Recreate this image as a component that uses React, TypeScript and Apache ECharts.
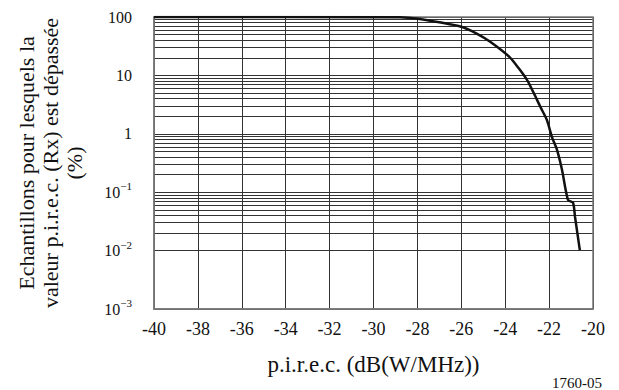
import React, { useEffect, useRef } from "react";
import * as echarts from "echarts";

const xValues = [-40, -28.8, -27.9, -27.0, -26.0, -25.3, -24.7, -23.8, -23.4, -23.0, -22.7, -22.4, -22.1, -21.87, -21.64, -21.41, -21.14, -20.91, -20.82, -20.6];
const yValues = [100, 99, 92.5, 81, 68, 52, 38, 20.6, 13.5, 8.3, 5, 2.9, 1.72, 0.88, 0.53, 0.24, 0.074, 0.066, 0.038, 0.0102];
const decades = [0.001, 0.01, 0.1, 1, 10];
const minorSteps = [2, 3, 4, 5, 6, 7, 8, 9];
const yTickLabels: Record<string, string> = {
  "100": "100",
  "10": "10",
  "1": "1",
  "0.1": "10{sup|\u22121}",
  "0.01": "10{sup|\u22122}",
  "0.001": "10{sup|\u22123}",
};

const FONT = "Liberation Serif";

export default function App() {
  const ref = useRef<HTMLDivElement>(null);
  useEffect(() => {
    if (!ref.current) return;
    const chart = echarts.init(ref.current, undefined, { renderer: "svg" });
    const minorLines: any[] = [];
    decades.forEach((d) => minorSteps.forEach((m) => minorLines.push({ yAxis: +(d * m).toPrecision(3) })));
    chart.setOption({
      animation: false,
      backgroundColor: "#fff",
      textStyle: { fontFamily: FONT },
      grid: { left: 154, right: 26, top: 17, bottom: 81 },
      xAxis: {
        type: "value",
        min: -40,
        max: -20,
        interval: 2,
        name: "p.i.r.e.c. (dB(W/MHz))",
        nameLocation: "middle",
        nameGap: 44,
        nameTextStyle: { fontFamily: FONT, fontSize: 23, color: "#111" },
        axisLine: { show: true, lineStyle: { color: "#777", width: 1.5 } },
        axisTick: { show: false },
        axisLabel: { fontFamily: FONT, fontSize: 18, color: "#111", margin: 11, formatter: (v: number) => String(v) },
        splitLine: { show: true, lineStyle: { color: "#333", width: 1 } },
      },
      yAxis: {
        type: "log",
        logBase: 10,
        min: 0.001,
        max: 100,
        axisLine: { show: true, lineStyle: { color: "#777", width: 1.5 } },
        axisTick: { show: false },
        axisLabel: {
          fontFamily: FONT,
          fontSize: 16,
          color: "#111",
          margin: 22,
          formatter: (v: number) => yTickLabels[String(v)] ?? String(v),
          rich: { sup: { fontFamily: FONT, fontSize: 11, verticalAlign: "top", padding: [0, 0, 12, 0], color: "#111" } },
        },
        splitLine: { show: true, lineStyle: { color: "#333", width: 1 } },
      },
      graphic: [
        {
          type: "text",
          x: 50,
          y: 163,
          rotation: Math.PI / 2,
          style: {
            text: "Echantillons pour lesquels la\nvaleur p.i.r.e.c. (Rx) est dépassée\n(%)",
            fontFamily: FONT,
            fontSize: 22,
            fill: "#111",
            align: "center",
            verticalAlign: "middle",
            lineHeight: 24,
          },
        },
        {
          type: "text",
          left: 552,
          top: 375,
          style: { text: "1760-05", fontFamily: FONT, fontSize: 15, fill: "#111" },
        },
        {
          type: "rect",
          shape: { x: 154, y: 17, width: 439, height: 292 },
          style: { fill: "none", stroke: "#777", lineWidth: 1.5 },
          z: 10,
        },
      ],
      series: [
        {
          type: "line",
          data: xValues.map((x, i) => [x, yValues[i]]),
          showSymbol: false,
          smooth: 0.25,
          lineStyle: { color: "#111", width: 2.5 },
          z: 20,
          markLine: {
            silent: true,
            symbol: ["none", "none"],
            label: { show: false },
            lineStyle: { color: "#333", width: 1, type: "solid" },
            data: minorLines,
          },
        },
      ],
    });
    return () => chart.dispose();
  }, []);
  return <div ref={ref} style={{ width: 619, height: 390, position: "absolute", left: 0, top: 0 }} />;
}
